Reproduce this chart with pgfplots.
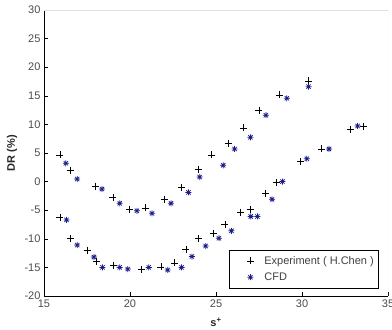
\documentclass[border=0pt]{standalone}
\usepackage{pgfplots}
\pgfplotsset{compat=1.18}
\usepackage{fontspec}
\setmainfont{Liberation Sans}
\definecolor{cfdblue}{RGB}{28,28,140}
\pgfdeclareplotmark{mstar}{%
 \pgfpathmoveto{\pgfqpoint{\pgfplotmarksize}{0pt}}\pgfpathlineto{\pgfqpoint{-\pgfplotmarksize}{0pt}}%
 \pgfpathmoveto{\pgfqpoint{0pt}{\pgfplotmarksize}}\pgfpathlineto{\pgfqpoint{0pt}{-\pgfplotmarksize}}%
 \pgfpathmoveto{\pgfqpoint{0.707\pgfplotmarksize}{0.707\pgfplotmarksize}}\pgfpathlineto{\pgfqpoint{-0.707\pgfplotmarksize}{-0.707\pgfplotmarksize}}%
 \pgfpathmoveto{\pgfqpoint{-0.707\pgfplotmarksize}{0.707\pgfplotmarksize}}\pgfpathlineto{\pgfqpoint{0.707\pgfplotmarksize}{-0.707\pgfplotmarksize}}%
 \pgfusepathqstroke}
\pgfplotsset{myleg/.style={legend image code/.code={\path[draw=none, fill=none] (0pt,-3pt) rectangle (31pt,3pt); \draw[mark repeat=2, mark phase=2, ##1] plot coordinates {(0pt,0pt) (19pt,0pt) (31pt,0pt)};}}}
\begin{document}
\begin{tikzpicture}
\begin{axis}[
 scale only axis, width=344pt, height=286pt,
 xmin=15, xmax=35, ymin=-20, ymax=30,
 xtick={15,20,...,35}, ytick={-20,-15,...,30},
 axis x line=bottom, axis y line=left, axis line style={-, black, line width=0.5pt},
 tick align=inside, major tick length=4pt, tick style={black, line width=0.5pt},
 ticklabel style={font=\fontsize{11}{13}\selectfont, text=black!70},
 /pgf/number format/assume math mode=true,
 xlabel={\textbf{s\textsuperscript{+}}}, ylabel={\textbf{DR (\%)}},
 label style={font=\fontsize{11}{13}\selectfont, text=black!85},
 xlabel style={at={(axis description cs:0.5,-0.091)}, anchor=center},
 ylabel style={at={(axis description cs:-0.093,0.5)}, anchor=center},
 legend style={at={(axis description cs:0.971,0.028)}, anchor=south east, draw=black,
   font=\fontsize{11}{13}\selectfont, text=black!75, cells={anchor=west},
   inner xsep=2pt, inner ysep=4pt, row sep=3pt},
]
\addplot[only marks, myleg, mark=+, mark size=3.5pt, black, line width=0.6pt] coordinates {
(15.92,4.65) (16.54,2.0) (18.0,-0.77) (19.0,-2.8) (19.97,-4.8) (20.88,-4.6)
(22.0,-3.1) (23.0,-1.05) (23.98,2.2) (24.72,4.65) (25.7,6.7) (26.58,9.4)
(27.49,12.5) (28.68,15.14) (30.38,17.6)
(15.92,-6.3) (16.54,-10.0) (17.5,-12.0) (18.05,-13.9) (19.05,-14.6) (20.68,-15.3)
(21.8,-14.9) (22.57,-14.2) (23.25,-11.85) (23.98,-10.0) (24.83,-9.05) (25.52,-7.55)
(26.43,-5.35) (27.02,-4.85) (27.88,-2.05) (28.5,-0.15) (29.9,3.5) (31.15,5.7)
(32.8,9.14) (33.55,9.6)
};
\addlegendentry{Experiment ( H.Chen )}
\addplot[only marks, myleg, mark=mstar, mark size=3pt, cfdblue, line width=0.75pt] coordinates {
(16.27,3.2) (16.93,0.45) (18.37,-1.3) (19.4,-3.8) (20.4,-5.1) (21.28,-5.55)
(22.38,-3.8) (23.4,-1.9) (24.05,0.8) (25.42,2.85) (26.08,5.7) (27.0,7.74)
(27.9,11.6) (29.12,14.56) (30.38,16.6)
(16.31,-6.7) (16.93,-11.1) (17.9,-13.2) (18.4,-15.0) (19.4,-15.0) (19.87,-15.3)
(21.09,-15.0) (22.19,-15.45) (23.0,-15.0) (23.6,-13.1) (24.4,-11.26) (25.17,-9.9)
(25.9,-8.6) (27.02,-6.1) (27.41,-6.1) (28.26,-3.1) (28.86,0.0) (30.28,4.0)
(31.57,5.7) (33.23,9.72)
};
\addlegendentry{CFD}
\draw[black!12, line width=0.5pt] (rel axis cs:0,1) -- (rel axis cs:1,1) -- (rel axis cs:1,0);
\end{axis}
\pgfresetboundingbox
\path[use as bounding box] ([xshift=-44pt,yshift=-34pt]current axis.south west) rectangle ([xshift=4pt,yshift=10pt]current axis.north east);
\end{tikzpicture}
\end{document}
